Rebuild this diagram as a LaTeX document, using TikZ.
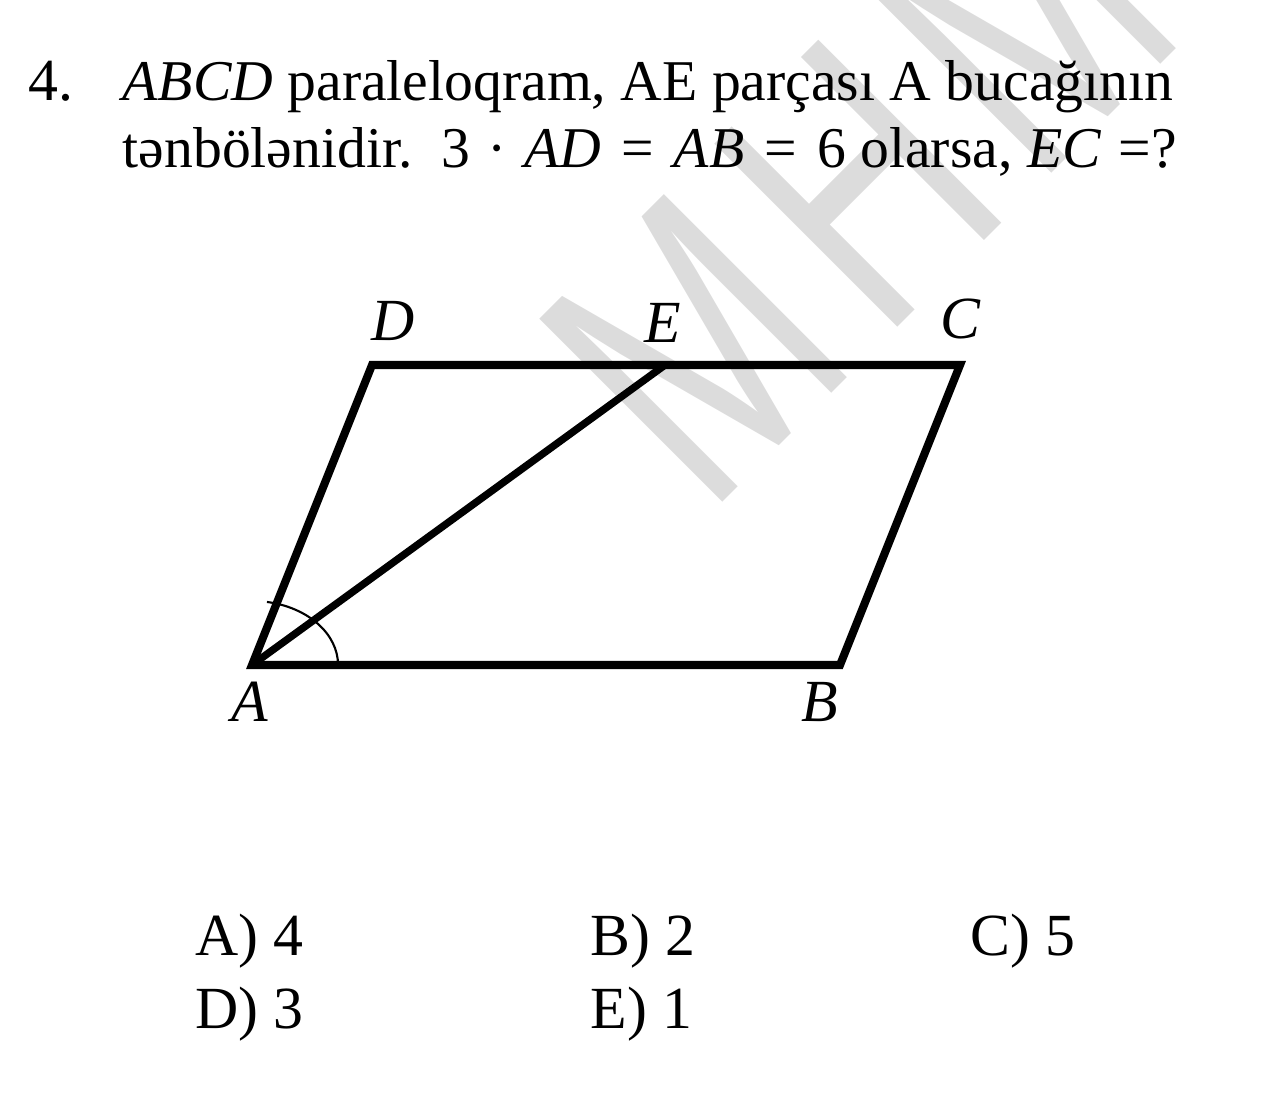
\documentclass[tikz,border=0pt]{standalone}
\usepackage{fontspec}
\setmainfont{Liberation Serif}
\newfontfamily\wmfont{Liberation Sans}
\definecolor{wmgray}{RGB}{220,220,220}
\tikzset{
  txt/.style={anchor=base west, inner sep=0pt, font=\fontsize{16.4}{20}\selectfont},
  ans/.style={anchor=base west, inner sep=0pt, font=\fontsize{17}{20}\selectfont},
  lbl/.style={anchor=base, inner sep=0pt, font=\fontsize{17}{20}\selectfont\itshape},
}
\begin{document}
\begin{tikzpicture}[x=0.01cm, y=-0.01cm, line join=miter]
\useasboundingbox (0,0) rectangle (1280,1103);
\clip (0,0) rectangle (1280,1103);
% 水印
\node[anchor=base west, inner sep=0pt, rotate=45, xscale=0.7, text=wmgray,
      font=\wmfont\fontsize{107}{107}\selectfont] (wm) at (707,518) {M\kern0.4cm H\kern0.4cm M};

% 题目
\node[ans] (num) at (28,100) {4.};
\node[txt] (q1) at (122,100) {\textit{ABCD} paraleloqram, AE parçası A bucağının};
\node[txt] (q2) at (122,167) {tənbölənidir.\hspace{0.5em}3\hspace{0.3em}·\hspace{0.3em}\textit{AD}\hspace{0.35em}=\hspace{0.35em}\textit{AB}\hspace{0.35em}=\hspace{0.35em}6 olarsa, \textit{EC}\hspace{0.3em}=?};

% 平行四边形
\coordinate (A) at (252,665);
\coordinate (B) at (840,665);
\coordinate (C) at (960,365);
\coordinate (D) at (372,365);
\coordinate (E) at (665,365);
\draw[line width=2.3pt] (A) -- (B) -- (C) -- (D) -- cycle;
\draw[line width=2.1pt] (A) -- (E);
\draw[line width=0.6pt] ([xshift=0.86cm]A) arc[start angle=0, end angle=80, x radius=0.86cm, y radius=0.64cm];

\node[lbl] (lD) at (393,340) {D};
\node[lbl] (lE) at (663,342) {E};
\node[lbl] (lC) at (960,338) {C};
\node[lbl] (lA) at (250,721) {A};
\node[lbl] (lB) at (820,721) {B};

% 选项
\node[ans] (ansA) at (195,955) {A) 4};
\node[ans] (ansB) at (590,955) {B) 2};
\node[ans] (ansC) at (970,955) {C) 5};
\node[ans] (ansD) at (195,1028) {D) 3};
\node[ans] (ansE) at (590,1028) {E) 1};
\end{tikzpicture}
\end{document}
